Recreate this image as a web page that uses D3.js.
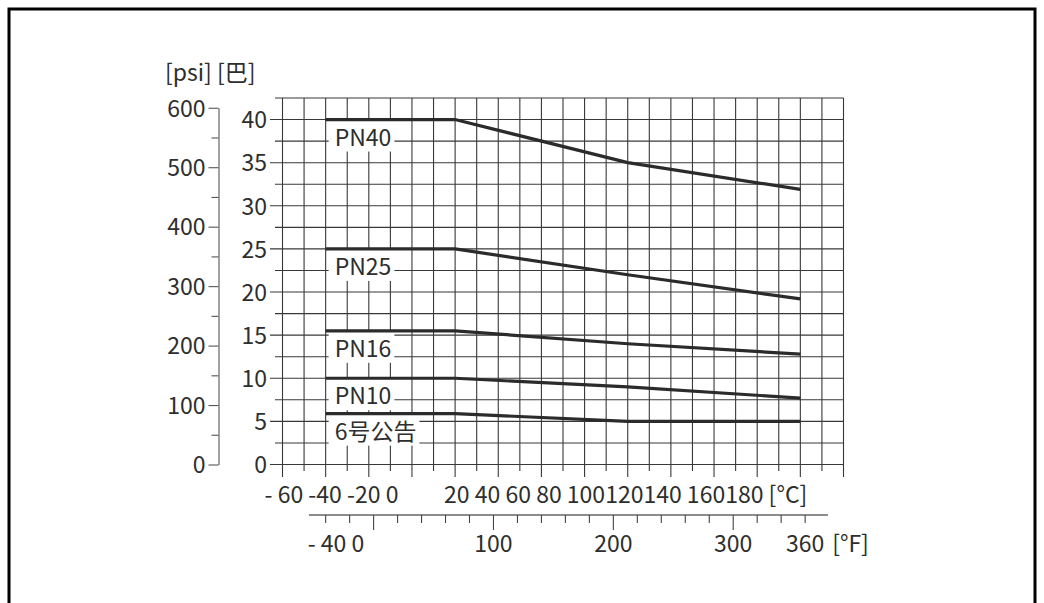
<!DOCTYPE html>
<html>
<head>
<meta charset="utf-8">
<script src="https://cdn.jsdelivr.net/npm/d3@7"></script>
<style>
  html, body { margin: 0; padding: 0; background: #fff; }
  svg { display: block; }
</style>
</head>
<body>
<script>
// temperature break points (°C) and pressure values (bar) per rating
const tempC = [-40, 20, 100, 180];
const pn40 = [40, 40, 35, 31.9];
const pn25 = [25, 25, 22, 19.2];
const pn16 = [15.5, 15.5, 14.0, 12.8];
const pn10 = [10, 10, 9.0, 7.7];
const notice6 = [5.9, 5.9, 5, 5];
const seriesNames = ["PN40", "PN25", "PN16", "PN10", "6号公告"];
const seriesValues = [pn40, pn25, pn16, pn10, notice6];

const barTicks = [0, 5, 10, 15, 20, 25, 30, 35, 40];
const psiMajorTicks = [0, 100, 200, 300, 400, 500, 600];
const psiMinorTicks = [50, 150, 250, 350, 450, 550];
const fahrenheitTicks = [-40, -20, 0, 20, 40, 60, 80, 100, 120, 140, 160, 180, 200, 220, 240, 260, 280, 300, 320, 340, 360];
const fahrenheitMajor = [0, 100, 200, 300];
const fahrenheitLabels = ["100", "200", "300", "360"];
// the celsius tick labels are set as running text in the original
const celsiusLabelText = ["- 60 -40 -20 0", "20 40 60 80 100120140 160180 [°C]"];
const axisTitle = "[psi] [巴]";

const width = 1044, height = 603;
const font = "'Noto Sans CJK SC', 'Noto Sans', sans-serif";
const fs = 23;
const ink = "#2e2e2e";

const svg = d3.select("body").append("svg")
    .attr("width", width)
    .attr("height", height);

// frame (open at the bottom)
svg.append("path")
    .attr("d", `M9,${height + 5}V9H1035V${height + 5}`)
    .attr("fill", "none")
    .attr("stroke", "#000")
    .attr("stroke-width", 3);

const x = d3.scaleLinear().domain([-60, 200]).range([282.5, 843.5]);
const y = d3.scaleLinear().domain([0, 42.5]).range([464.5, 98]);
const psiPerBar = 14.5038;
const yPsi = d3.scaleLinear().domain([0, 600]).range([y(0), y(600 / psiPerBar)]);
const xF = d3.scaleLinear().domain([-76, 392]).range([x(-60), x(200)]);

function label(sel) {
    return sel.attr("font-family", font).attr("font-size", fs).attr("fill", ink);
}

// grid
const grid = svg.append("g").attr("stroke", "#383838").attr("stroke-width", 1.1);
grid.selectAll(".v")
    .data(d3.range(-60, 201, 10))
    .enter().append("line")
    .attr("x1", d => x(d)).attr("x2", d => x(d))
    .attr("y1", y(42.5))
    .attr("y2", d => y(0) + (d % 20 === 0 ? 12.5 : 6.5));
grid.selectAll(".h")
    .data(d3.range(0, 42.6, 2.5))
    .enter().append("line")
    .attr("y1", d => y(d)).attr("y2", d => y(d))
    .attr("x1", d => d % 5 === 0 ? 270 : 275)
    .attr("x2", x(200));

// bar axis labels
const barAxis = svg.append("g")
    .attr("transform", "translate(270,0)")
    .call(d3.axisLeft(y).tickValues(barTicks).tickSize(0).tickPadding(3));
barAxis.select(".domain").remove();

// psi axis
svg.append("g")
    .attr("transform", "translate(218.5,0)")
    .call(d3.axisLeft(yPsi).tickValues(psiMajorTicks).tickSize(10).tickSizeOuter(0).tickPadding(3));
svg.append("g")
    .attr("transform", "translate(218.5,0)")
    .call(d3.axisLeft(yPsi).tickValues(psiMinorTicks).tickSize(7).tickFormat(""))
    .select(".domain").remove();

svg.selectAll(".tick line, .domain").attr("stroke", "#555").attr("stroke-width", 1.1);
label(svg.selectAll(".tick text")).attr("dy", "0.36em");

label(svg.append("text")).attr("x", 165).attr("y", 81).text(axisTitle);

// celsius labels
label(svg.append("text"))
    .attr("x", x(-60) - 18).attr("y", 503)
    .text(celsiusLabelText[0]);
label(svg.append("text"))
    .attr("x", x(20) - 11).attr("y", 503)
    .text(celsiusLabelText[1]);

// fahrenheit axis
const fy = 515;
svg.append("line")
    .attr("x1", xF(-54)).attr("x2", xF(379))
    .attr("y1", fy).attr("y2", fy)
    .attr("stroke", "#666").attr("stroke-width", 1.3);
svg.selectAll(".ftick")
    .data(fahrenheitTicks)
    .enter().append("line")
    .attr("x1", d => xF(d)).attr("x2", d => xF(d))
    .attr("y1", fy)
    .attr("y2", d => fy + (fahrenheitMajor.includes(d) ? 15 : 8))
    .attr("stroke", "#444").attr("stroke-width", 1.1);
label(svg.selectAll(".flabel")
    .data(fahrenheitLabels)
    .enter().append("text"))
    .attr("x", d => xF(+d)).attr("y", 552)
    .attr("text-anchor", "middle")
    .text(d => d);
label(svg.append("text"))
    .attr("x", xF(-40) - 18).attr("y", 552)
    .text("- 40 0");
label(svg.append("text"))
    .attr("x", xF(360) + 27).attr("y", 552)
    .text("[°F]");

// series labels on white boxes
seriesNames.forEach((name, i) => {
    const g = svg.append("g");
    const t = label(g.append("text"))
        .attr("x", x(-40) + 9)
        .attr("y", y(seriesValues[i][0]) + 26)
        .text(name);
    const b = t.node().getBBox();
    g.insert("rect", "text")
        .attr("x", b.x - 6).attr("y", b.y + 1)
        .attr("width", b.width + 9).attr("height", b.height - 2)
        .attr("fill", "#fff");
});

// curves
const line = d3.line()
    .x((d, i) => x(tempC[i]))
    .y(d => y(d));
svg.selectAll(".curve")
    .data(seriesValues)
    .enter().append("path")
    .attr("d", d => line(d))
    .attr("fill", "none")
    .attr("stroke", "#2b2b2b")
    .attr("stroke-width", 3.2);
</script>
</body>
</html>
